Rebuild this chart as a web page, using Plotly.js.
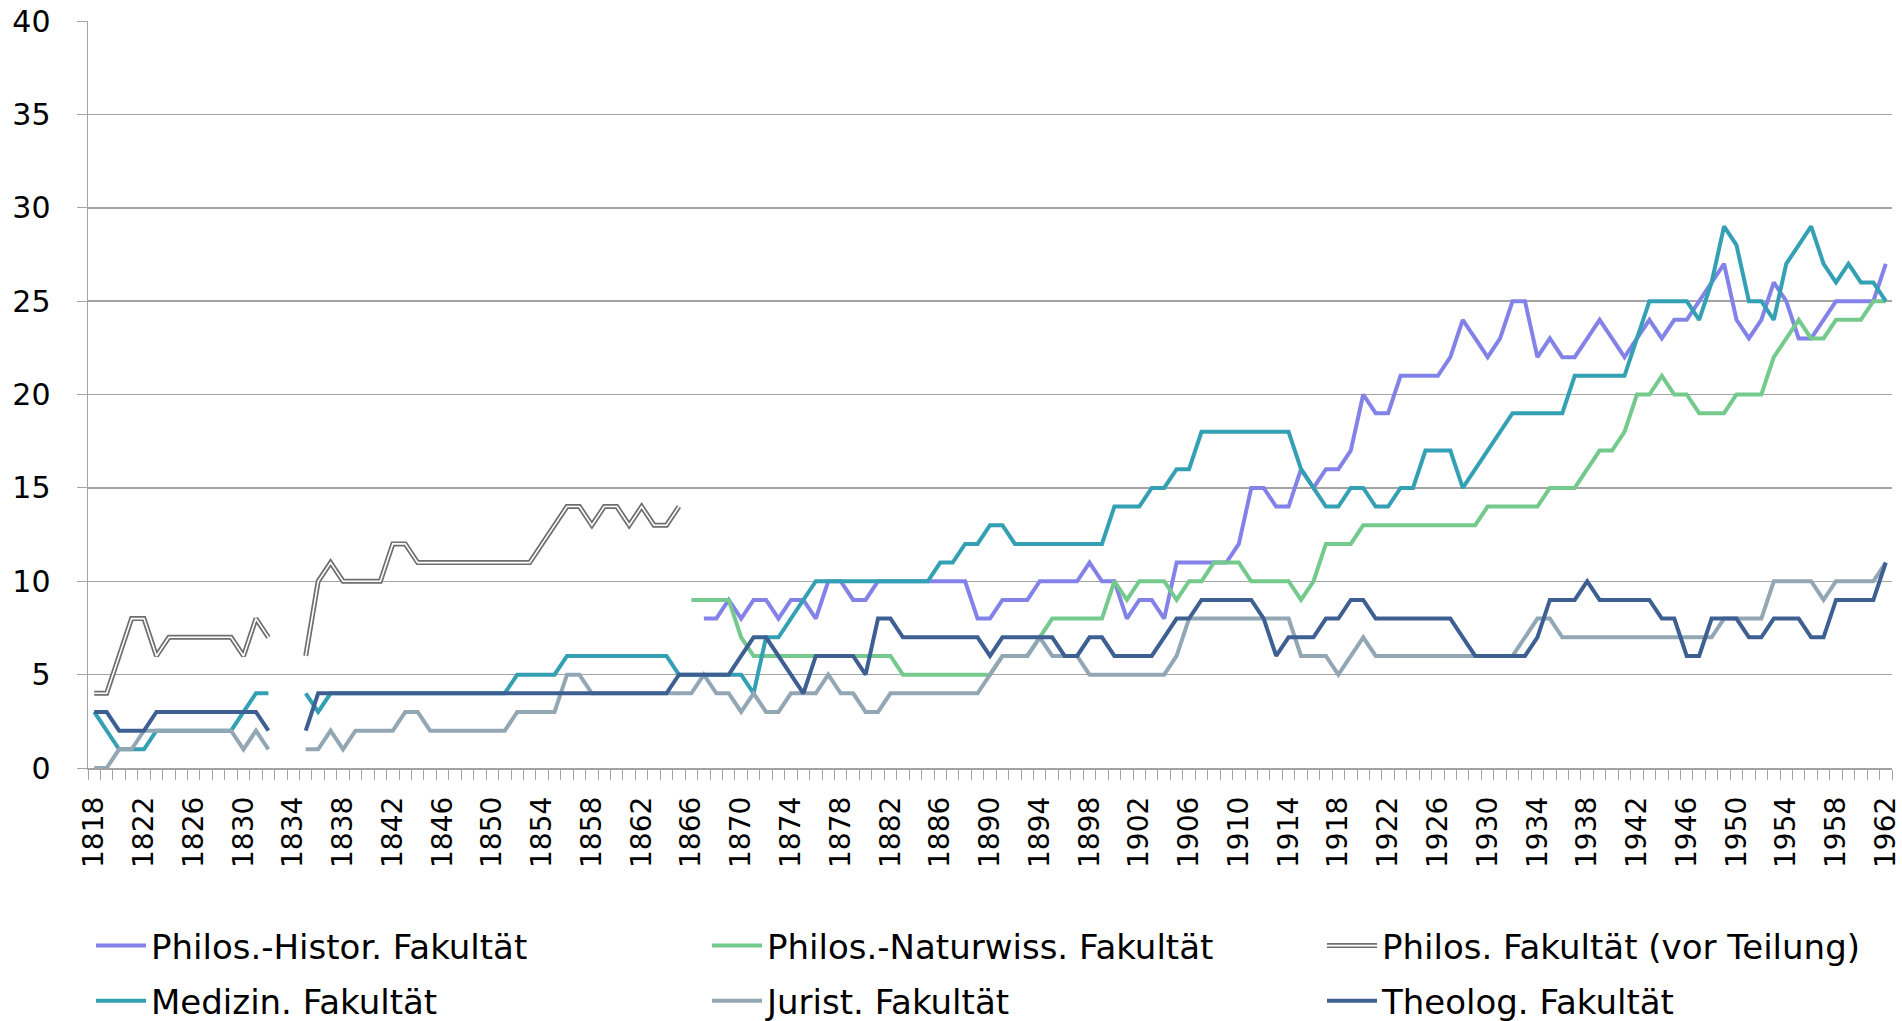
<!DOCTYPE html>
<html>
<head>
<meta charset="utf-8">
<script src="https://cdn.plot.ly/plotly-3.0.1.min.js"></script>
<style>html,body{margin:0;padding:0;background:#fff;}#chart{width:1902px;height:1021px;}</style>
</head>
<body>
<div id="chart"></div>
<script>
// Years (category axis)
const years = [1818,1819,1820,1821,1822,1823,1824,1825,1826,1827,
1828,1829,1830,1831,1832,1833,1834,1835,1836,1837,
1838,1839,1840,1841,1842,1843,1844,1845,1846,1847,
1848,1849,1850,1851,1852,1853,1854,1855,1856,1857,
1858,1859,1860,1861,1862,1863,1864,1865,1866,1867,
1868,1869,1870,1871,1872,1873,1874,1875,1876,1877,
1878,1879,1880,1881,1882,1883,1884,1885,1886,1887,
1888,1889,1890,1891,1892,1893,1894,1895,1896,1897,
1898,1899,1900,1901,1902,1903,1904,1905,1906,1907,
1908,1909,1910,1911,1912,1913,1914,1915,1916,1917,
1918,1919,1920,1921,1922,1923,1924,1925,1926,1927,
1928,1929,1930,1931,1932,1933,1934,1935,1936,1937,
1938,1939,1940,1941,1942,1943,1944,1945,1946,1947,
1948,1949,1950,1951,1952,1953,1954,1955,1956,1957,
1958,1959,1960,1961,1962];

const N = null;
const philosHistor = [
N,N,N,N,N,N,N,N,N,N,
N,N,N,N,N,N,N,N,N,N,
N,N,N,N,N,N,N,N,N,N,
N,N,N,N,N,N,N,N,N,N,
N,N,N,N,N,N,N,N,N,8,
8,9,8,9,9,8,9,9,8,10,
10,9,9,10,10,10,10,10,10,10,
10,8,8,9,9,9,10,10,10,10,
11,10,10,8,9,9,8,11,11,11,
11,11,12,15,15,14,14,16,15,16,
16,17,20,19,19,21,21,21,21,22,
24,23,22,23,25,25,22,23,22,22,
23,24,23,22,23,24,23,24,24,25,
26,27,24,23,24,26,25,23,23,24,
25,25,25,25,27];

const philosNatur = [
N,N,N,N,N,N,N,N,N,N,
N,N,N,N,N,N,N,N,N,N,
N,N,N,N,N,N,N,N,N,N,
N,N,N,N,N,N,N,N,N,N,
N,N,N,N,N,N,N,N,9,9,
9,9,7,6,6,6,6,6,6,6,
6,6,6,6,6,5,5,5,5,5,
5,5,5,6,6,6,7,8,8,8,
8,8,10,9,10,10,10,9,10,10,
11,11,11,10,10,10,10,9,10,12,
12,12,13,13,13,13,13,13,13,13,
13,13,14,14,14,14,14,15,15,15,
16,17,17,18,20,20,21,20,20,19,
19,19,20,20,20,22,23,24,23,23,
24,24,24,25,25];

const philosVorTeilung = [
4,4,6,8,8,6,7,7,7,7,
7,7,6,8,7,N,N,6,10,11,
10,10,10,10,12,12,11,11,11,11,
11,11,11,11,11,11,12,13,14,14,
13,14,14,13,14,13,13,14,N,N,
N,N,N,N,N,N,N,N,N,N,
N,N,N,N,N,N,N,N,N,N,
N,N,N,N,N,N,N,N,N,N,
N,N,N,N,N,N,N,N,N,N,
N,N,N,N,N,N,N,N,N,N,
N,N,N,N,N,N,N,N,N,N,
N,N,N,N,N,N,N,N,N,N,
N,N,N,N,N,N,N,N,N,N,
N,N,N,N,N,N,N,N,N,N,
N,N,N,N,N];

const medizin = [
3,2,1,1,1,2,2,2,2,2,
2,2,3,4,4,N,N,4,3,4,
4,4,4,4,4,4,4,4,4,4,
4,4,4,4,5,5,5,5,6,6,
6,6,6,6,6,6,6,5,5,5,
5,5,5,4,7,7,8,9,10,10,
10,10,10,10,10,10,10,10,11,11,
12,12,13,13,12,12,12,12,12,12,
12,12,14,14,14,15,15,16,16,18,
18,18,18,18,18,18,18,16,15,14,
14,15,15,14,14,15,15,17,17,17,
15,16,17,18,19,19,19,19,19,21,
21,21,21,21,23,25,25,25,25,24,
26,29,28,25,25,24,27,28,29,27,
26,27,26,26,25];

const jurist = [
0,0,1,1,2,2,2,2,2,2,
2,2,1,2,1,N,N,1,1,2,
1,2,2,2,2,3,3,2,2,2,
2,2,2,2,3,3,3,3,5,5,
4,4,4,4,4,4,4,4,4,5,
4,4,3,4,3,3,4,4,4,5,
4,4,3,3,4,4,4,4,4,4,
4,4,5,6,6,6,7,6,6,6,
5,5,5,5,5,5,5,6,8,8,
8,8,8,8,8,8,8,6,6,6,
5,6,7,6,6,6,6,6,6,6,
6,6,6,6,6,7,8,8,7,7,
7,7,7,7,7,7,7,7,7,7,
7,8,8,8,8,10,10,10,10,9,
10,10,10,10,11];

const theolog = [
3,3,2,2,2,3,3,3,3,3,
3,3,3,3,2,N,N,2,4,4,
4,4,4,4,4,4,4,4,4,4,
4,4,4,4,4,4,4,4,4,4,
4,4,4,4,4,4,4,5,5,5,
5,5,6,7,7,6,5,4,6,6,
6,6,5,8,8,7,7,7,7,7,
7,7,6,7,7,7,7,7,6,6,
7,7,6,6,6,6,7,8,8,9,
9,9,9,9,8,6,7,7,7,8,
8,9,9,8,8,8,8,8,8,8,
7,6,6,6,6,6,7,9,9,9,
10,9,9,9,9,9,8,8,6,6,
8,8,8,7,7,8,8,8,7,7,
9,9,9,9,11];

const seriesNames = ["Philos.-Histor. Fakultät","Philos.-Naturwiss. Fakultät","Philos. Fakultät (vor Teilung)",
  "Medizin. Fakultät","Jurist. Fakultät","Theolog. Fakultät"];

function line(y, name, color, width, legend, group, show) {
  return {x: years, y: y, name: name, type: 'scatter', mode: 'lines',
    line: {color: color, width: width, shape: 'linear'}, connectgaps: false,
    legend: legend, legendgroup: group, showlegend: show, hoverinfo: 'skip'};
}

const traces = [
  line(philosHistor, seriesNames[0], '#8282E8', 4, 'legend', 'g1', true),
  line(philosNatur, seriesNames[1], '#74C98C', 4, 'legend2', 'g2', true),
  line(philosVorTeilung, seriesNames[2], '#6E6E6E', 5, 'legend3', 'g3', true),
  // white core of the double line; its legend entry (no text) sits over the grey symbol
  line(philosVorTeilung, '', '#FFFFFF', 1.6, 'legend4', 'g3w', true),
  line(medizin, seriesNames[3], '#33A0B4', 4, 'legend', 'g4', true),
  line(jurist, seriesNames[4], '#93A6B4', 4, 'legend2', 'g5', true),
  line(theolog, seriesNames[5], '#3D5F92', 4, 'legend3', 'g6', true)
];

const font = 'DejaVu Sans, Verdana, sans-serif';
const legendTop = (1021 - 917) / 1021;
const legendBase = {xref: 'container', yref: 'container', xanchor: 'left', yanchor: 'top',
  y: legendTop, orientation: 'v', tracegroupgap: 8, itemwidth: 50,
  bgcolor: 'rgba(0,0,0,0)', font: {family: font, size: 34, color: '#000'}};

const layout = {
  width: 1902, height: 1021,
  margin: {l: 88, r: 10, t: 21, b: 253, autoexpand: false},
  paper_bgcolor: '#fff', plot_bgcolor: '#fff',
  showlegend: true,
  xaxis: {type: 'linear', range: [1817.5, 1962.5], tick0: 1818, dtick: 4, tickangle: -90,
    ticks: 'outside', ticklen: 10, tickcolor: 'rgba(0,0,0,0)', automargin: false,
    tickfont: {family: font, size: 28, color: '#000'},
    showline: true, linecolor: '#a3a3a3', linewidth: 1.5, showgrid: false, zeroline: false,
    minor: {tick0: 1817.5, dtick: 1, ticks: 'outside', ticklen: 10, tickcolor: '#a3a3a3', tickwidth: 1, showgrid: false},
    ticklabelstandoff: 6},
  yaxis: {range: [0, 40], tick0: 0, dtick: 5, showgrid: true, gridcolor: '#a3a3a3', gridwidth: 1.5,
    showline: true, linecolor: '#a3a3a3', linewidth: 1.5, zeroline: false, automargin: false,
    ticks: 'outside', ticklen: 10, tickcolor: '#a3a3a3',
    tickfont: {family: font, size: 30, color: '#000'}, ticklabelstandoff: 20},
  legend: Object.assign({}, legendBase, {x: 91 / 1902}),
  legend2: Object.assign({}, legendBase, {x: 707 / 1902}),
  legend3: Object.assign({}, legendBase, {x: 1322 / 1902}),
  legend4: Object.assign({}, legendBase, {x: 1322 / 1902})
};

Plotly.newPlot('chart', traces, layout, {displayModeBar: false, staticPlot: true});
</script>
</body>
</html>
